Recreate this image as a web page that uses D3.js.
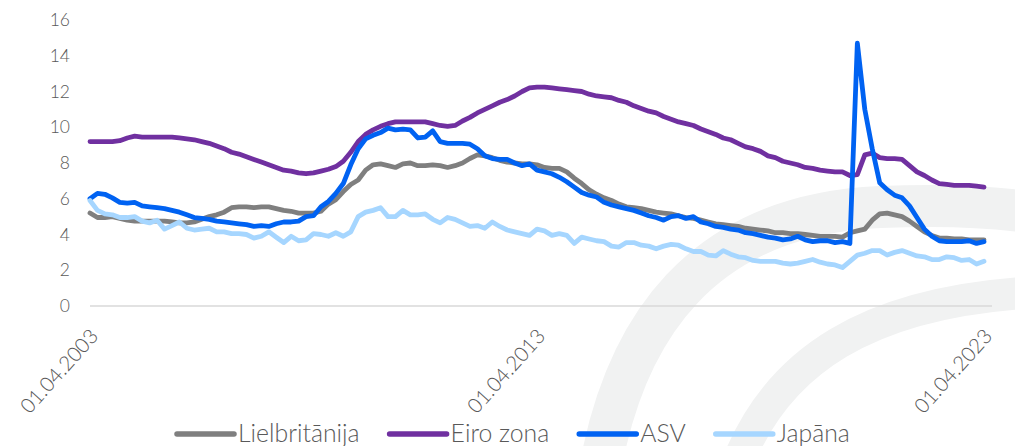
<!DOCTYPE html>
<html>
<head>
<meta charset="utf-8">
<script src="https://cdn.jsdelivr.net/npm/d3@7"></script>
<style>
  html, body { margin: 0; padding: 0; background: #ffffff; }
  svg { display: block; }
  text { font-family: Lato, "Noto Sans", sans-serif; fill: #595959; }
</style>
</head>
<body>
<svg id="chart" width="1015" height="446"></svg>
<script>
// ---- Data (bi-monthly points, 01.04.2003 – 01.04.2023) ----
const seriesNames = ["Lielbritānija", "Eiro zona", "ASV", "Japāna"];
const xTickLabels = ["01.04.2003", "01.04.2013", "01.04.2023"];
const xTickIndex = [0, 60, 120];
const yTicks = [0, 2, 4, 6, 8, 10, 12, 14, 16];

const lielbritanija = [
  5.2, 4.95, 4.95, 5.0, 4.9, 4.8, 4.75, 4.75, 4.75, 4.75,
  4.75, 4.7, 4.65, 4.65, 4.7, 4.85, 5.0, 5.1, 5.25, 5.5,
  5.55, 5.55, 5.5, 5.55, 5.55, 5.45, 5.35, 5.3, 5.2, 5.2,
  5.2, 5.3, 5.7, 5.95, 6.4, 6.8, 7.05, 7.6, 7.9, 7.95,
  7.85, 7.75, 7.95, 8.0, 7.85, 7.85, 7.9, 7.85, 7.75, 7.85,
  8.0, 8.25, 8.45, 8.4, 8.3, 8.15, 8.05, 8.0, 7.95, 7.95,
  7.9, 7.75, 7.7, 7.7, 7.5, 7.15, 6.85, 6.5, 6.25, 6.05,
  5.9, 5.7, 5.55, 5.5, 5.45, 5.35, 5.25, 5.2, 5.15, 5.05,
  4.95, 4.9, 4.8, 4.7, 4.6, 4.55, 4.5, 4.45, 4.35, 4.3,
  4.25, 4.2, 4.1, 4.1, 4.05, 4.05, 4.0, 3.95, 3.9, 3.9,
  3.9, 3.85, 4.1, 4.2, 4.3, 4.8, 5.15, 5.2, 5.1, 5.0,
  4.75, 4.45, 4.15, 3.95, 3.8, 3.8, 3.75, 3.75, 3.7, 3.7,
  3.7
];
const eiroZona = [
  9.2, 9.2, 9.2, 9.2, 9.25, 9.4, 9.5, 9.45, 9.45, 9.45,
  9.45, 9.45, 9.4, 9.35, 9.3, 9.2, 9.1, 8.95, 8.8, 8.6,
  8.5, 8.35, 8.2, 8.05, 7.9, 7.75, 7.6, 7.55, 7.45, 7.4,
  7.45, 7.55, 7.65, 7.8, 8.1, 8.6, 9.2, 9.6, 9.85, 10.05,
  10.2, 10.3, 10.3, 10.3, 10.3, 10.3, 10.2, 10.1, 10.05, 10.1,
  10.35, 10.55, 10.8, 11.0, 11.2, 11.4, 11.55, 11.75, 12.0, 12.2,
  12.25, 12.25, 12.2, 12.15, 12.1, 12.05, 12.0, 11.85, 11.75, 11.7,
  11.65, 11.5, 11.4, 11.2, 11.05, 10.9, 10.8, 10.6, 10.45, 10.3,
  10.2, 10.1, 9.9, 9.75, 9.6, 9.4, 9.3, 9.1, 8.9, 8.8,
  8.65, 8.4, 8.3, 8.1, 8.0, 7.9, 7.75, 7.7, 7.6, 7.55,
  7.5, 7.5, 7.3, 7.35, 8.45, 8.55, 8.3, 8.25, 8.25, 8.2,
  7.85, 7.5, 7.3, 7.05, 6.85, 6.8, 6.75, 6.75, 6.75, 6.7,
  6.65
];
const asv = [
  6.0, 6.3, 6.25, 6.05, 5.8, 5.75, 5.8, 5.6, 5.55, 5.5,
  5.45, 5.35, 5.25, 5.1, 4.95, 4.9, 4.85, 4.75, 4.7, 4.65,
  4.6, 4.55, 4.45, 4.5, 4.45, 4.6, 4.7, 4.7, 4.75, 5.0,
  5.05, 5.55, 5.85, 6.3, 6.85, 7.9, 8.8, 9.35, 9.55, 9.7,
  9.95, 9.85, 9.9, 9.85, 9.4, 9.45, 9.8, 9.2, 9.1, 9.1,
  9.1, 9.05, 8.8, 8.4, 8.25, 8.2, 8.2, 8.0, 7.85, 7.95,
  7.6, 7.5, 7.4, 7.2, 6.95, 6.65, 6.35, 6.2, 6.1, 5.8,
  5.65, 5.55, 5.45, 5.35, 5.2, 5.05, 4.95, 4.8, 5.0, 5.05,
  4.9, 5.0, 4.7, 4.6, 4.45, 4.4, 4.3, 4.25, 4.1, 4.05,
  3.95, 3.85, 3.8, 3.7, 3.75, 3.9, 3.7, 3.6, 3.65, 3.65,
  3.55, 3.6, 3.5, 14.7, 11.0, 8.8, 6.9, 6.5, 6.2, 6.05,
  5.6, 4.95, 4.3, 3.9, 3.65, 3.6, 3.6, 3.6, 3.65, 3.5,
  3.6
];
const japana = [
  5.9, 5.35, 5.15, 5.1, 4.95, 4.95, 5.0, 4.75, 4.65, 4.8,
  4.3, 4.5, 4.7, 4.35, 4.25, 4.3, 4.35, 4.15, 4.15, 4.05,
  4.05, 4.0, 3.8, 3.9, 4.15, 3.85, 3.55, 3.9, 3.65, 3.7,
  4.05, 4.0, 3.9, 4.1, 3.9, 4.15, 5.0, 5.25, 5.35, 5.5,
  5.0, 5.0, 5.35, 5.1, 5.1, 5.15, 4.85, 4.65, 4.95, 4.85,
  4.65, 4.45, 4.5, 4.35, 4.7, 4.45, 4.25, 4.15, 4.05, 3.95,
  4.3, 4.2, 3.95, 4.05, 3.95, 3.5, 3.85, 3.75, 3.65, 3.6,
  3.35, 3.3, 3.55, 3.55, 3.4, 3.35, 3.2, 3.35, 3.45, 3.4,
  3.2, 3.05, 3.05, 2.85, 2.8, 3.1, 2.9, 2.75, 2.7, 2.55,
  2.5, 2.5, 2.5, 2.4, 2.35, 2.4, 2.5, 2.6, 2.45, 2.35,
  2.3, 2.15, 2.5, 2.85, 2.95, 3.1, 3.1, 2.85, 3.0, 3.1,
  2.95, 2.8, 2.75, 2.6, 2.6, 2.75, 2.7, 2.55, 2.6, 2.35,
  2.5
];
const seriesValues = [lielbritanija, eiroZona, asv, japana];
const seriesColors = ["#7f7f7f", "#7030a0", "#0062f2", "#a6d6ff"];

// ---- Layout ----
const svg = d3.select("#chart");
const plot = { left: 90, right: 984, top: 20, bottom: 306 };

const x = d3.scaleLinear().domain([0, lielbritanija.length - 1]).range([plot.left, plot.right]);
const y = d3.scaleLinear().domain([0, 16]).range([plot.bottom, plot.top]);

// ---- Watermark (faint background logo) ----
const wm = svg.append("g").attr("fill", "none").attr("stroke", "#f1f2f2").attr("stroke-linecap", "butt");
wm.append("path").attr("d", "M600,470 C625,330 700,215 880,207 C950,204 1000,207 1040,214").attr("stroke-width", 42);
wm.append("path").attr("d", "M735,470 C775,360 870,300 1040,292").attr("stroke-width", 32);

// ---- Baseline ----
svg.append("line")
  .attr("x1", plot.left).attr("x2", 992)
  .attr("y1", y(0)).attr("y2", y(0))
  .attr("stroke", "#d9d9d9").attr("stroke-width", 1.5);

// ---- Y axis ----
const yAxis = svg.append("g")
  .attr("transform", `translate(${plot.left - 20},0)`)
  .call(d3.axisLeft(y).tickValues(yTicks).tickSize(0).tickPadding(0).tickFormat(d3.format("d")));
yAxis.select(".domain").remove();
yAxis.selectAll("text").attr("font-size", 17.5).attr("font-family", "Lato, sans-serif").attr("fill", "#595959").attr("font-weight", 300);

// ---- X axis labels (rotated) ----
const xAxis = svg.append("g")
  .attr("transform", `translate(0,${y(0)})`)
  .call(d3.axisBottom(x).tickValues(xTickIndex).tickSize(0).tickFormat((d, i) => xTickLabels[i]));
xAxis.select(".domain").remove();
xAxis.selectAll(".tick text")
  .attr("font-size", 20.5).attr("font-family", "Lato, sans-serif").attr("fill", "#595959").attr("font-weight", 300)
  .attr("text-anchor", "end")
  .attr("dy", 0).attr("y", 0)
  .attr("transform", "translate(9,31) rotate(-48)");

// ---- Lines ----
const line = d3.line().x((d, i) => x(i)).y(d => y(d));
seriesValues.forEach((vals, k) => {
  svg.append("path")
    .datum(vals)
    .attr("fill", "none")
    .attr("stroke", seriesColors[k])
    .attr("stroke-width", 4.8)
    .attr("stroke-linejoin", "round")
    .attr("stroke-linecap", "round")
    .attr("d", line);
});

// ---- Legend ----
const legend = svg.append("g").attr("transform", "translate(177,434)");
let cx = 0;
seriesNames.forEach((name, k) => {
  const g = legend.append("g").attr("transform", `translate(${cx},0)`);
  g.append("line").attr("x1", 0).attr("x2", 57).attr("y1", 0).attr("y2", 0)
    .attr("stroke", seriesColors[k]).attr("stroke-width", 5.5).attr("stroke-linecap", "round");
  const t = g.append("text").attr("x", 61).attr("y", 0).attr("dy", "0.34em")
    .attr("font-size", 24.8).attr("font-weight", 300).text(name);
  cx += 61 + t.node().getComputedTextLength() + 30;
});
</script>
</body>
</html>
